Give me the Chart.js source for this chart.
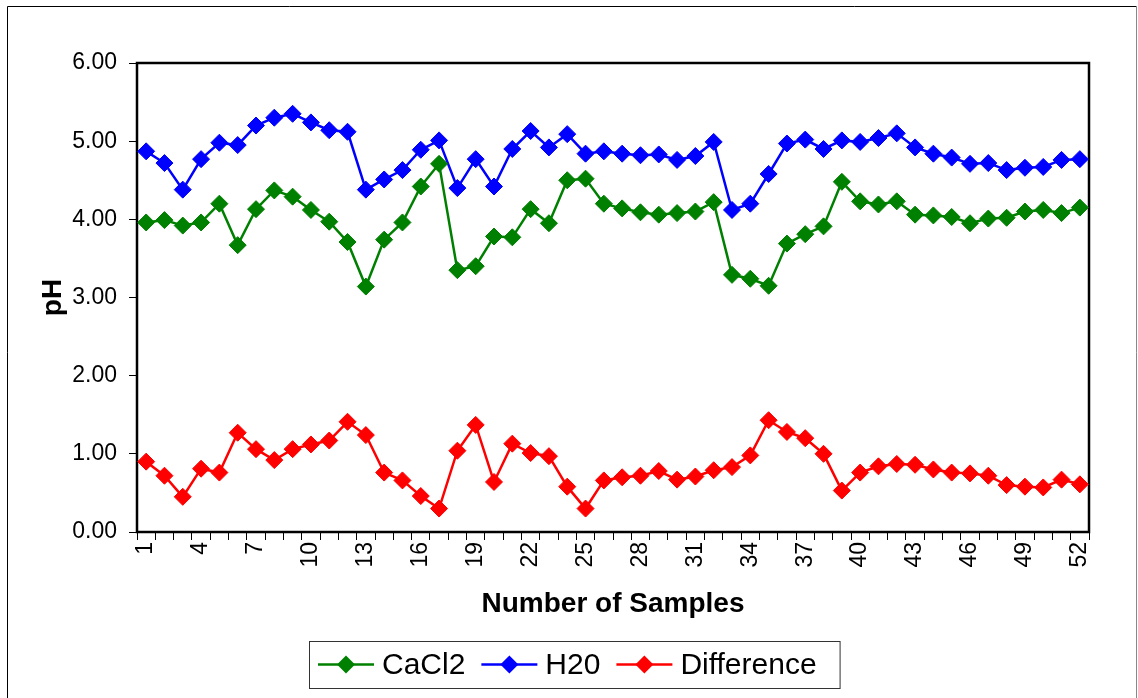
<!DOCTYPE html>
<html>
<head>
<meta charset="utf-8">
<title>pH by sample</title>
<script src="https://cdn.jsdelivr.net/npm/chart.js@4/dist/chart.umd.min.js"></script>
<style>
  html, body { margin: 0; padding: 0; background: #fff; }
  canvas { display: block; }
</style>
</head>
<body>
<canvas id="phChart" width="1138" height="698"></canvas>
<script>
const sampleLabels = [
  '1', '2', '3', '4', '5', '6', '7', '8', '9', '10',
  '11', '12', '13', '14', '15', '16', '17', '18', '19', '20',
  '21', '22', '23', '24', '25', '26', '27', '28', '29', '30',
  '31', '32', '33', '34', '35', '36', '37', '38', '39', '40',
  '41', '42', '43', '44', '45', '46', '47', '48', '49', '50',
  '51', '52'
];

const cacl2Values = [
  3.96, 3.99, 3.92, 3.96, 4.20, 3.67, 4.13, 4.37, 4.29, 4.12,
  3.97, 3.71, 3.14, 3.74, 3.96, 4.42, 4.71, 3.35, 3.40, 3.78,
  3.77, 4.13, 3.95, 4.50, 4.52, 4.20, 4.14, 4.09, 4.06, 4.08,
  4.10, 4.22, 3.29, 3.24, 3.15, 3.69, 3.81, 3.91, 4.48, 4.23,
  4.19, 4.23, 4.06, 4.05, 4.03, 3.95, 4.01, 4.02, 4.10, 4.12,
  4.08, 4.15
];

const h2oValues = [
  4.87, 4.72, 4.38, 4.77, 4.98, 4.95, 5.20, 5.30, 5.35, 5.24,
  5.14, 5.12, 4.38, 4.51, 4.63, 4.89, 5.01, 4.40, 4.77, 4.42,
  4.90, 5.13, 4.92, 5.09, 4.84, 4.87, 4.84, 4.82, 4.83, 4.76,
  4.81, 4.99, 4.12, 4.20, 4.58, 4.97, 5.02, 4.90, 5.01, 4.99,
  5.04, 5.10, 4.92, 4.84, 4.79, 4.71, 4.72, 4.63, 4.66, 4.67,
  4.76, 4.77
];

const differenceValues = [
  0.90, 0.72, 0.45, 0.81, 0.76, 1.27, 1.06, 0.92, 1.06, 1.12,
  1.17, 1.41, 1.24, 0.76, 0.66, 0.46, 0.30, 1.04, 1.37, 0.64,
  1.13, 1.01, 0.97, 0.58, 0.30, 0.66, 0.70, 0.72, 0.78, 0.67,
  0.71, 0.79, 0.83, 0.98, 1.43, 1.28, 1.20, 1.00, 0.53, 0.76,
  0.84, 0.87, 0.86, 0.80, 0.76, 0.75, 0.72, 0.60, 0.58, 0.57,
  0.67, 0.61
];

const FONT = 'Arial, "Liberation Sans", sans-serif';

function series(label, data, color) {
  return {
    label,
    data,
    borderColor: color,
    backgroundColor: color,
    borderWidth: 2.5,
    pointStyle: 'rectRot',
    pointRadius: 8.5,
    pointBorderWidth: 1,
    pointBackgroundColor: color,
    pointBorderColor: color,
    tension: 0,
    clip: false
  };
}

// outer border, plot frame and the boxed legend under the axis title
const chartDecor = {
  id: 'chartDecor',
  beforeDraw(chart) {
    const ctx = chart.ctx;
    ctx.save();
    ctx.fillStyle = '#fff';
    ctx.fillRect(0, 0, chart.width, chart.height);
    ctx.lineWidth = 1;
    ctx.strokeStyle = '#000';
    ctx.beginPath();
    ctx.moveTo(7.5, chart.height);
    ctx.lineTo(7.5, 6.5);
    ctx.lineTo(1136.5, 6.5);
    ctx.stroke();
    ctx.strokeStyle = '#888';
    ctx.beginPath();
    ctx.moveTo(1136.5, 6.5);
    ctx.lineTo(1136.5, chart.height);
    ctx.stroke();
    ctx.restore();
  },
  beforeDatasetsDraw(chart) {
    const { ctx, chartArea: a } = chart;
    ctx.save();
    ctx.lineWidth = 2.5;
    ctx.strokeStyle = '#000';
    ctx.strokeRect(a.left, a.top, a.right - a.left, a.bottom - a.top);
    ctx.restore();
  },
  afterDraw(chart) {
    const ctx = chart.ctx;
    const sets = chart.data.datasets;
    ctx.save();
    ctx.font = '30px ' + FONT;
    ctx.textBaseline = 'middle';
    ctx.textAlign = 'left';

    const boxLeft = 309, boxTop = 641, boxHeight = 47;
    const lineLen = 56, textGap = 8, itemGap = 16;
    const midY = boxTop + boxHeight / 2;
    let x = boxLeft + 9;

    sets.forEach((ds, i) => {
      ctx.strokeStyle = ds.borderColor;
      ctx.lineWidth = 2.5;
      ctx.beginPath();
      ctx.moveTo(x, midY);
      ctx.lineTo(x + lineLen, midY);
      ctx.stroke();

      const cx = x + lineLen / 2, r = 9;
      ctx.fillStyle = ds.borderColor;
      ctx.beginPath();
      ctx.moveTo(cx - r, midY);
      ctx.lineTo(cx, midY - r);
      ctx.lineTo(cx + r, midY);
      ctx.lineTo(cx, midY + r);
      ctx.closePath();
      ctx.fill();

      x += lineLen + textGap;
      ctx.fillStyle = '#000';
      ctx.fillText(ds.label, x, midY + 1);
      x += ctx.measureText(ds.label).width;
      if (i < sets.length - 1) x += itemGap;
    });

    ctx.lineWidth = 1;
    ctx.strokeStyle = '#333';
    ctx.strokeRect(boxLeft + 0.5, boxTop + 0.5, x + 23 - boxLeft, boxHeight);
    ctx.restore();
  }
};

new Chart(document.getElementById('phChart'), {
  type: 'line',
  data: {
    labels: sampleLabels,
    datasets: [
      series('CaCl2', cacl2Values, '#008000'),
      series('H20', h2oValues, '#0000FF'),
      series('Difference', differenceValues, '#FF0000')
    ]
  },
  options: {
    responsive: false,
    devicePixelRatio: 1,
    animation: false,
    layout: { padding: { left: 7, top: 63, right: 49, bottom: 73 } },
    plugins: {
      legend: { display: false },
      tooltip: { enabled: false }
    },
    scales: {
      x: {
        type: 'category',
        offset: true,
        grid: { offset: true, drawOnChartArea: false, drawTicks: true, tickLength: 8, color: '#000', lineWidth: 1 },
        border: { display: false },
        ticks: {
          autoSkip: false,
          minRotation: 90,
          maxRotation: 90,
          padding: 2,
          color: '#000',
          font: { family: FONT, size: 23 },
          callback: (value, index) => (index % 3 === 0 ? sampleLabels[index] : '')
        },
        title: {
          display: true,
          text: 'Number of Samples',
          color: '#000',
          font: { family: FONT, size: 28, weight: 'bold' },
          padding: { top: 0, bottom: 4 }
        },
        afterFit: (scale) => { scale.height = 93; }
      },
      y: {
        min: 0,
        max: 6,
        grid: { drawOnChartArea: false, drawTicks: true, tickLength: 8, color: '#000', lineWidth: 1 },
        border: { display: false },
        ticks: {
          stepSize: 1,
          padding: 12,
          color: '#000',
          font: { family: FONT, size: 23 },
          callback: (value) => value.toFixed(2)
        },
        title: {
          display: true,
          text: 'pH',
          color: '#000',
          font: { family: FONT, size: 28, weight: 'bold' },
          padding: { top: 29, bottom: 0 }
        },
        afterFit: (scale) => { scale.width = 130; }
      }
    }
  },
  plugins: [chartDecor]
});
</script>
</body>
</html>
